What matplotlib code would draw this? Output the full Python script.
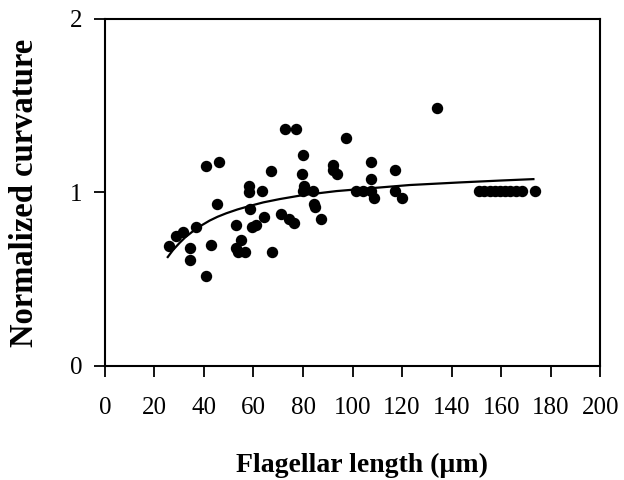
import matplotlib
matplotlib.use("Agg")
import matplotlib.pyplot as plt

length_um = [25.8, 28.8, 31.5, 34.2, 34.2, 36.9, 40.9, 41.0, 42.7, 45.2, 46.2,
             52.9, 52.8, 53.7, 55.1, 56.5, 58.2, 58.2, 58.8, 59.6, 61.0, 63.4,
             64.1, 67.0, 67.5, 71.2, 72.6, 74.5, 76.2, 77.3, 80.0, 79.5, 80.5,
             80.0, 84.0, 84.6, 85.0, 87.4, 92.1, 92.2, 93.8, 97.5, 101.3, 104.2,
             107.4, 107.4, 107.4, 108.7, 117.0, 117.1, 120.0, 133.9,
             151.2, 153.2, 155.3, 157.4, 159.5, 161.6, 163.7, 165.8, 168.4, 173.8]
curvature = [0.69, 0.75, 0.77, 0.68, 0.61, 0.80, 0.52, 1.155, 0.695, 0.935, 1.175,
             0.815, 0.68, 0.655, 0.725, 0.655, 1.04, 1.00, 0.905, 0.80, 0.815, 1.006,
             0.858, 1.122, 0.657, 0.874, 1.363, 0.849, 0.825, 1.363, 1.216, 1.106, 1.04,
             1.01, 1.01, 0.933, 0.916, 0.849, 1.158, 1.13, 1.105, 1.314, 1.01, 1.01,
             1.01, 1.178, 1.078, 0.969, 1.127, 1.01, 0.971, 1.487,
             1.01, 1.01, 1.01, 1.01, 1.01, 1.01, 1.01, 1.01, 1.01, 1.01]

fit_x = [25.4, 27.5, 30.2, 32.5, 35.5, 38.5, 42.3, 45.5, 49.0, 53.5, 58.4, 64.0,
         70.6, 80.0, 93.5, 106.9, 123.1, 143.4, 160.0, 173.0]
fit_y = [0.628, 0.668, 0.710, 0.742, 0.776, 0.806, 0.838, 0.860, 0.880, 0.902,
         0.922, 0.943, 0.962, 0.985, 1.008, 1.024, 1.043, 1.058, 1.069, 1.077]

x_ticks = [0, 20, 40, 60, 80, 100, 120, 140, 160, 180, 200]
y_ticks = [0, 1, 2]

plt.rcParams['font.family'] = ['Liberation Serif', 'DejaVu Serif']

fig = plt.figure(figsize=(6.24, 4.8), dpi=100)
ax = fig.add_axes([0.168, 0.2375, 0.794, 0.723])

ax.plot(fit_x, fit_y, color='black', lw=1.6, zorder=2)
ax.plot(length_um, curvature, 'o', color='black', markersize=7.2, zorder=3)

ax.set_xlim(0, 200)
ax.set_ylim(0, 2)
ax.set_xticks(x_ticks)
ax.set_yticks(y_ticks)
ax.set_xticklabels([str(t) for t in x_ticks])
ax.set_yticklabels([str(t) for t in y_ticks])

for s in ax.spines.values():
    s.set_linewidth(1.5)
ax.tick_params(axis='both', direction='out', length=8, width=1.3, labelsize=18)
ax.tick_params(axis='x', pad=14)
ax.tick_params(axis='y', pad=8)

ax.set_xlabel('Flagellar length (µm)', fontsize=20, fontweight='bold')
ax.set_ylabel('Normalized curvature', fontsize=23.5, fontweight='bold')
ax.xaxis.set_label_coords(0.52, -0.25)
ax.yaxis.set_label_coords(-0.13, 0.5)

fig.savefig('out.png', dpi=100)
